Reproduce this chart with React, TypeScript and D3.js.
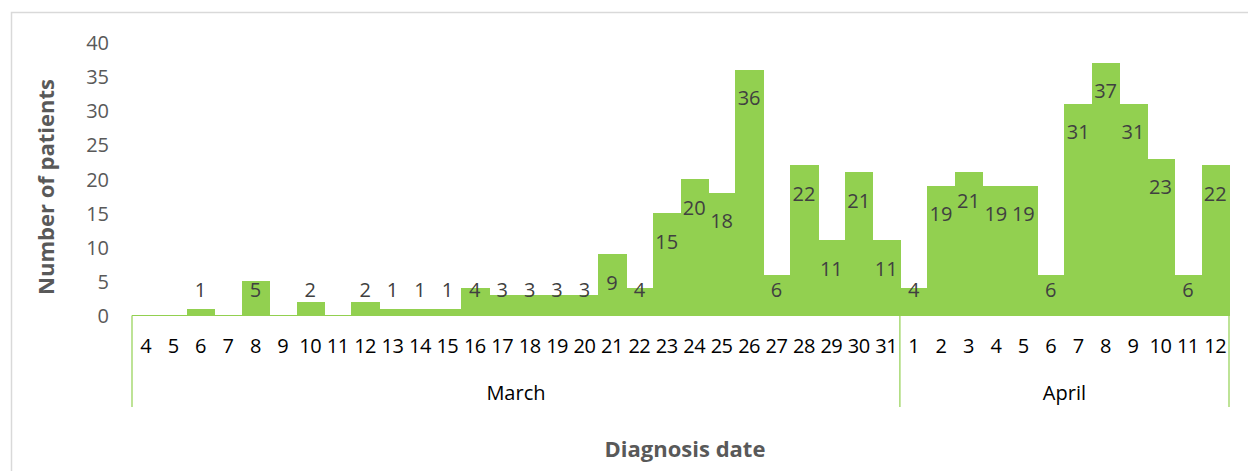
import * as d3 from "d3"

const MARCH_DAYS = [4, 5, 6, 7, 8, 9, 10, 11, 12, 13, 14, 15, 16, 17, 18, 19, 20, 21, 22, 23, 24, 25, 26, 27, 28, 29, 30, 31]
const MARCH_VALUES = [0, 0, 1, 0, 5, 0, 2, 0, 2, 1, 1, 1, 4, 3, 3, 3, 3, 9, 4, 15, 20, 18, 36, 6, 22, 11, 21, 11]
const APRIL_DAYS = [1, 2, 3, 4, 5, 6, 7, 8, 9, 10, 11, 12]
const APRIL_VALUES = [4, 19, 21, 19, 19, 6, 31, 37, 31, 23, 6, 22]
const MONTHS = ["March", "April"]
const Y_TICKS = [0, 5, 10, 15, 20, 25, 30, 35, 40]

const WIDTH = 1248
const HEIGHT = 471
const LEFT = 132
const RIGHT = 1229
const TOP = 42.5
const ZERO = 315.5
const AXIS_BOTTOM = 407
const FONT = "'Open Sans', 'Noto Sans', sans-serif"
const GREEN = "#92d050"

type Bar = { key: string; day: number; month: string; value: number }

const bars: Bar[] = [
  ...MARCH_DAYS.map((day, i) => ({ key: `${MONTHS[0]}-${day}`, day, month: MONTHS[0], value: MARCH_VALUES[i] })),
  ...APRIL_DAYS.map((day, i) => ({ key: `${MONTHS[1]}-${day}`, day, month: MONTHS[1], value: APRIL_VALUES[i] })),
]

export default function App() {
  const x = d3
    .scaleBand<string>()
    .domain(bars.map((b) => b.key))
    .range([LEFT, RIGHT])
    .padding(0)
  const y = d3.scaleLinear().domain([0, 40]).range([ZERO, TOP])
  const bw = x.bandwidth()

  // month groups: start and end x of each month's band run
  const groups = MONTHS.map((m) => {
    const keys = bars.filter((b) => b.month === m).map((b) => b.key)
    const x0 = x(keys[0]) ?? 0
    const x1 = (x(keys[keys.length - 1]) ?? 0) + bw
    return { month: m, x0, x1 }
  })

  return (
    <svg
      width={WIDTH}
      height={HEIGHT}
      style={{ position: "absolute", left: 0, top: 0, background: "#fff" }}
      fontFamily={FONT}
    >
      <rect x={11.5} y={12.5} width={WIDTH} height={HEIGHT} fill="none" stroke="#d9d9d9" strokeWidth={1.5} />

      {Y_TICKS.map((t) => (
        <text key={t} x={109} y={y(t)} textAnchor="end" dominantBaseline="central" fontSize={20} fill="#595959">
          {t}
        </text>
      ))}

      <g shapeRendering="crispEdges">
        {bars.map((b) =>
          b.value > 0 ? (
            <rect
              key={b.key}
              x={Math.round(x(b.key) ?? 0)}
              y={y(b.value)}
              width={Math.round((x(b.key) ?? 0) + bw) - Math.round(x(b.key) ?? 0) + 1}
              height={ZERO - y(b.value)}
              fill={GREEN}
            />
          ) : null
        )}
      </g>

      {bars.map((b) =>
        b.value > 0 ? (
          <text
            key={`l-${b.key}`}
            x={(x(b.key) ?? 0) + bw / 2}
            y={Math.min(y(b.value) + 28, ZERO - 26)}
            textAnchor="middle"
            dominantBaseline="central"
            fontSize={20}
            fill="#404040"
          >
            {b.value}
          </text>
        ) : null
      )}

      <line x1={LEFT} x2={RIGHT} y1={ZERO} y2={ZERO} stroke={GREEN} strokeWidth={1.2} />
      {[groups[0].x0, ...groups.map((g) => g.x1)].map((gx, i) => (
        <line key={i} x1={gx} x2={gx} y1={ZERO} y2={AXIS_BOTTOM} stroke={GREEN} strokeWidth={1.2} />
      ))}

      {bars.map((b) => (
        <text
          key={`t-${b.key}`}
          x={(x(b.key) ?? 0) + bw / 2}
          y={345}
          textAnchor="middle"
          dominantBaseline="central"
          fontSize={20}
          letterSpacing={-0.5}
          fill="#000"
        >
          {b.day}
        </text>
      ))}

      {groups.map((g) => (
        <text
          key={g.month}
          x={(g.x0 + g.x1) / 2}
          y={392}
          textAnchor="middle"
          dominantBaseline="central"
          fontSize={20}
          fill="#000"
        >
          {g.month}
        </text>
      ))}

      <text
        x={685}
        y={448}
        textAnchor="middle"
        dominantBaseline="central"
        fontSize={22}
        fontWeight={700}
        fill="#595959"
      >
        Diagnosis date
      </text>
      <text
        transform={`translate(45, ${(TOP + ZERO) / 2 + 8}) rotate(-90)`}
        textAnchor="middle"
        dominantBaseline="central"
        fontSize={22}
        fontWeight={700}
        fill="#595959"
      >
        Number of patients
      </text>
    </svg>
  )
}
